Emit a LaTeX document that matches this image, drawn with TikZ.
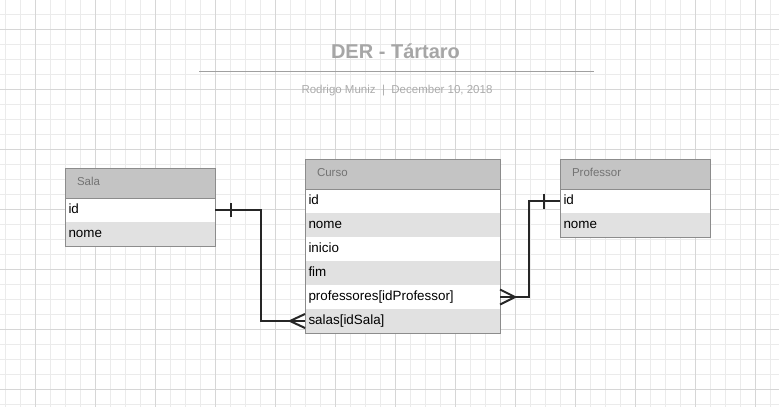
\documentclass[tikz,border=0pt]{standalone}
\usepackage{fontspec}
\setmainfont{Liberation Sans}
\usetikzlibrary{calc}
\definecolor{gridminor}{HTML}{EBEBEB}
\definecolor{gridmajor}{HTML}{D6D6D6}
\definecolor{headfill}{HTML}{C4C4C4}
\definecolor{headtext}{HTML}{737373}
\definecolor{rowgray}{HTML}{E1E1E1}
\definecolor{tborder}{HTML}{8C8C8C}
\definecolor{conn}{HTML}{262626}
\definecolor{titlecol}{HTML}{A6A6A6}
\definecolor{subcol}{HTML}{ABABAB}
\definecolor{rulecol}{HTML}{A0A0A0}
\begin{document}
\begin{tikzpicture}[x=1pt,y=-1pt,
  head/.style={anchor=north west, fill=headfill, minimum height=30, inner xsep=12, inner ysep=0, outer sep=0,
    text width=#1, align=left, font=\fontsize{11.5}{12}\selectfont, text=headtext, text height=8.3, text depth=2.5},
  rowbase/.style={anchor=north west, minimum height=24, inner xsep=3.5, inner ysep=0, outer sep=0,
    text width=#1, align=left, font=\fontsize{13.4}{14}\selectfont, text=black, text height=10, text depth=3},
  roww/.style={rowbase=#1, fill=white},
  rowg/.style={rowbase=#1, fill=rowgray},
  tframe/.style={draw=tborder, line width=1},
  rel/.style={draw=conn, line width=2},
]
\useasboundingbox (0,0) rectangle (779,407);
\fill[white] (0,0) rectangle (779,407);
% grid
\foreach \x in {5,20,...,770} \draw[gridminor, line width=1] (\x,0) -- (\x,407);
\foreach \y in {14,29,...,404} \draw[gridminor, line width=1] (0,\y) -- (779,\y);
\foreach \x in {35,95,...,755} \draw[gridmajor, line width=1] (\x,0) -- (\x,407);
\foreach \y in {29,89,...,389} \draw[gridmajor, line width=1] (0,\y) -- (779,\y);

% title
\node[anchor=base, text=titlecol, font=\fontsize{20}{22}\selectfont\bfseries, inner sep=0] (title) at (395.5,58.3) {DER - Tártaro};
\coordinate (ruleL) at (199,71.7);
\coordinate (ruleR) at (594,71.7);
\draw[rulecol, line width=1.5] (ruleL) -- (ruleR);
\node[anchor=base, text=subcol, font=\fontsize{11.5}{12}\selectfont, inner sep=0] (subtitle) at (397,93.7) {Rodrigo Muniz\ \ |\ \ December 10, 2018};

% Sala
\node[head=126] (sala) at (65,168) {Sala};
\node[roww=143] (sala-id) at (sala.south west) {id};
\node[rowg=143] (sala-nome) at (sala-id.south west) {nome};
\draw[tframe] (sala.north west) rectangle (sala-nome.south east);
\draw[tframe] (sala.south west) -- (sala.south east);

% Curso
\node[head=171] (curso) at (305,159) {Curso};
\node[roww=188] (curso-id) at (curso.south west) {id};
\node[rowg=188] (curso-nome) at (curso-id.south west) {nome};
\node[roww=188] (curso-inicio) at (curso-nome.south west) {inicio};
\node[rowg=188] (curso-fim) at (curso-inicio.south west) {fim};
\node[roww=188] (curso-prof) at (curso-fim.south west) {professores[idProfessor]};
\node[rowg=188] (curso-salas) at (curso-prof.south west) {salas[idSala]};
\draw[tframe] (curso.north west) rectangle (curso-salas.south east);
\draw[tframe] (curso.south west) -- (curso.south east);

% Professor
\node[head=126] (prof) at (560,159) {Professor};
\node[roww=143] (prof-id) at (prof.south west) {id};
\node[rowg=143] (prof-nome) at (prof-id.south west) {nome};
\draw[tframe] (prof.north west) rectangle (prof-nome.south east);
\draw[tframe] (prof.south west) -- (prof.south east);

% Sala.id -> Curso.salas
\draw[rel] (sala-id.east) -- ++(46,0) |- (curso-salas.west);
\draw[rel] ($(sala-id.east)+(16,-7)$) -- ($(sala-id.east)+(16,7)$);
\draw[rel] ($(curso-salas.west)+(0,-7)$) -- ($(curso-salas.west)+(-15,0)$) -- ($(curso-salas.west)+(0,7)$);

% Professor.id -> Curso.professores
\draw[rel] (prof-id.west) -- ++(-31,0) |- (curso-prof.east);
\draw[rel] ($(prof-id.west)+(-16,-7.5)$) -- ($(prof-id.west)+(-16,7.5)$);
\draw[rel] ($(curso-prof.east)+(0,-7.5)$) -- ($(curso-prof.east)+(15,0)$) -- ($(curso-prof.east)+(0,7.5)$);
\end{tikzpicture}
\end{document}
